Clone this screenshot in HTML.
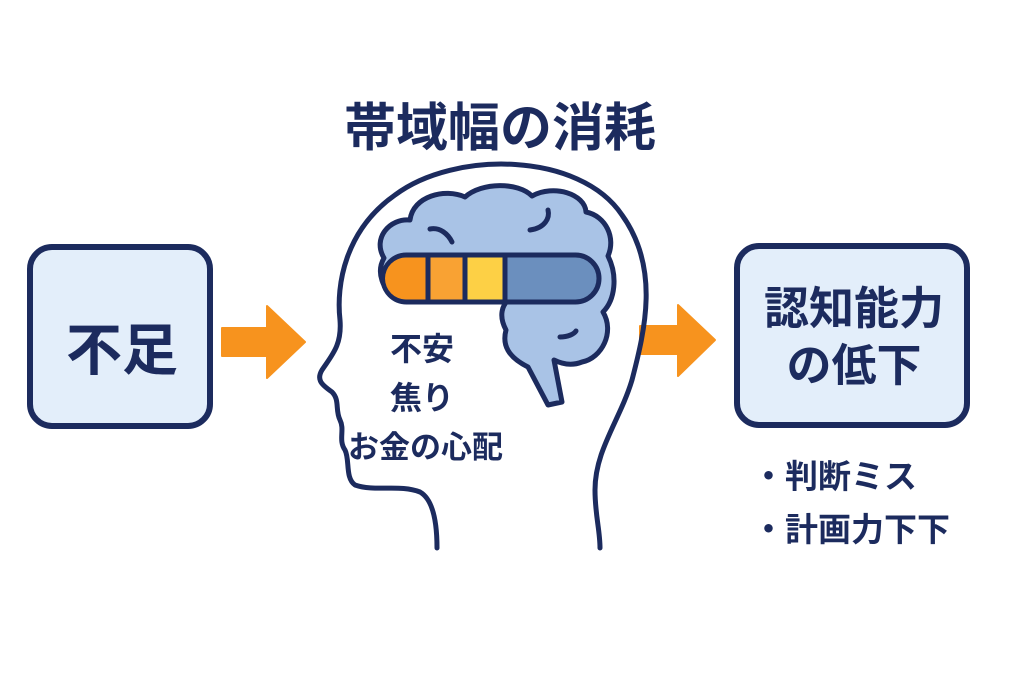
<!DOCTYPE html>
<html><head><meta charset="utf-8"><style>
html,body{margin:0;padding:0;background:#fff;}
body{width:1024px;height:683px;position:relative;overflow:hidden;font-family:"Liberation Sans","Noto Sans CJK JP",sans-serif;color:#1c2b5e;font-weight:bold;}
.t{position:absolute;white-space:nowrap;font-weight:bold;}
</style></head><body>
<svg width="1024" height="683" style="position:absolute;left:0;top:0">
<rect x="30" y="247" width="180" height="179" rx="22" fill="#e3eefa" stroke="#1c2b5e" stroke-width="6"/>
<rect x="737" y="246" width="230" height="179" rx="22" fill="#e3eefa" stroke="#1c2b5e" stroke-width="6"/>
<path d="M222 328 H267 V306 L305 342 L267 378 V356 H222 Z" fill="#f7931e" stroke="#f7931e" stroke-width="2" stroke-linejoin="round"/>
<path d="M640 326 H678 V305 L715 340 L678 376 V354 H640 Z" fill="#f7931e" stroke="#f7931e" stroke-width="2" stroke-linejoin="round"/>
<!-- head -->
<path d="M437 548 C437 525 434 500 420 492 C400 484 375 492 355 485 C345 478 350 460 345 450 C338 440 345 430 340 420 C335 410 340 400 332 392 C322 385 316 380 322 370 C332 355 342 345 340 320 C336 285 345 230 395 195 C455 150 580 152 622 215 C660 268 645 330 632 380 C620 420 595 450 595 490 C595 515 600 530 600 548" fill="none" stroke="#1c2b5e" stroke-width="5" stroke-linecap="round" stroke-linejoin="round"/>
<!-- brain -->
<path d="M384 258 C372 238 390 218 410 220 C413 196 445 188 465 197 C482 182 518 182 532 196 C554 184 585 194 586 212 C606 216 616 238 608 256 C618 276 615 300 603 312 C615 332 602 358 582 362 C572 366 562 364 554 360 L562 402 L548 405 L528 367 C508 357 502 345 506 330 C498 315 503 305 508 300 L398 300 C382 290 376 272 384 258 Z" fill="#a9c3e6" stroke="#1c2b5e" stroke-width="5" stroke-linejoin="round"/>
<path d="M430 229 C440 227 448 234 452 242" fill="none" stroke="#1c2b5e" stroke-width="5" stroke-linecap="round"/>
<path d="M530 230 C545 228 550 218 548 210" fill="none" stroke="#1c2b5e" stroke-width="5" stroke-linecap="round"/>
<path d="M560 337 C568 337 574 334 576 331" fill="none" stroke="#1c2b5e" stroke-width="5" stroke-linecap="round"/>
<!-- bar -->
<rect x="383" y="255" width="216" height="47" rx="23.5" fill="#6b8fbe" stroke="#1c2b5e" stroke-width="5"/>
<path d="M406 257.5 H428 V299.5 H406 A21 21 0 0 1 406 257.5 Z" fill="#f7931e"/>
<rect x="430" y="257.5" width="34" height="42" fill="#f9a233"/>
<rect x="466" y="257.5" width="38" height="42" fill="#fdd045"/>
<line x1="428" y1="256" x2="428" y2="301" stroke="#1c2b5e" stroke-width="5"/>
<line x1="465" y1="256" x2="465" y2="301" stroke="#1c2b5e" stroke-width="5"/>
<line x1="505" y1="256" x2="505" y2="301" stroke="#1c2b5e" stroke-width="5"/>
</svg>
<div class="t" style="left:0;width:1000px;text-align:center;top:86px;font-size:52px;">帯域幅の消耗</div>
<div class="t" style="left:30px;width:184px;text-align:center;top:306px;font-size:56px;">不足</div>
<div class="t" style="left:737px;width:234px;text-align:center;top:280px;font-size:45px;line-height:57px;">認知能力<br>の低下</div>
<div class="t" style="left:390px;top:324px;font-size:32px;">不安</div>
<div class="t" style="left:390px;top:373px;font-size:32px;">焦り</div>
<div class="t" style="left:348px;top:422px;font-size:31px;">お金の心配</div>
<div class="t" style="left:752px;top:450px;font-size:33px;line-height:53px;">・判断ミス<br>・計画力下下</div>
</body></html>
